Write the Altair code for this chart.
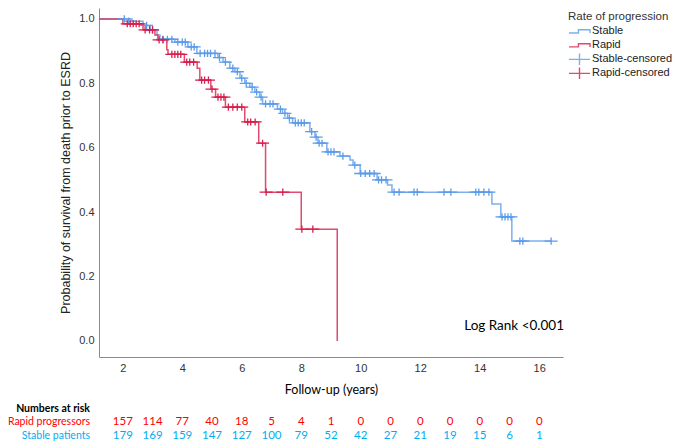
import altair as alt
import pandas as pd

# ---------------- data ----------------
groups = ["Stable", "Rapid", "Stable-censored", "Rapid-censored"]
group_colors = ["#5b9bea", "#d81e4c", "#5b9bea", "#d81e4c"]

stable_t = [1.2, 2.31, 2.68, 2.92, 3.15, 3.25, 3.75, 4.19, 4.49, 5.2, 5.37, 5.6, 5.77, 5.94,
            6.1, 6.27, 6.44, 6.6, 6.7, 7.2, 7.37, 7.54, 7.71, 8.29, 8.46, 8.56, 8.86, 9.3,
            9.64, 9.74, 9.98, 10.55, 10.9, 11.05, 14.41, 14.71, 15.08, 16.4]
stable_s = [1.0, 0.993, 0.98, 0.966, 0.95, 0.937, 0.928, 0.913, 0.893, 0.88, 0.866, 0.847, 0.836, 0.816,
            0.8, 0.788, 0.773, 0.757, 0.736, 0.72, 0.707, 0.692, 0.677, 0.65, 0.633, 0.614, 0.587, 0.574,
            0.562, 0.546, 0.52, 0.5, 0.484, 0.462, 0.425, 0.385, 0.31, 0.31]

rapid_t = [1.2, 2.0, 2.68, 3.08, 3.18, 3.48, 3.52, 4.07, 4.5, 4.59, 4.96, 5.12, 5.45, 6.1, 6.57, 6.8, 8.0, 9.21]
rapid_s = [1.0, 0.985, 0.966, 0.95, 0.935, 0.904, 0.89, 0.866, 0.847, 0.81, 0.782, 0.757, 0.726, 0.68,
           0.614, 0.462, 0.347, 0.0]

stable_cens_t = [2.05, 2.2, 2.8, 3.0, 3.35, 3.5, 3.65, 3.85, 4.0, 4.1, 4.3, 4.4, 4.6, 4.75, 4.85, 4.95, 5.1,
                 5.25, 5.45, 5.7, 5.85, 6.0, 6.15, 6.35, 6.5, 6.65, 6.8, 6.95, 7.05, 7.3, 7.45, 7.6,
                 7.8, 7.9, 8.0, 8.1, 8.35, 8.5, 8.6, 8.7, 8.9, 9.0, 9.1, 9.4, 9.8, 10.0, 10.15, 10.3,
                 10.45, 10.6, 10.7, 10.85, 11.12, 11.29, 11.79, 11.9, 12.8, 13.03, 13.87, 13.97,
                 14.14, 14.31, 14.75, 14.85, 14.95, 15.05, 15.35, 15.45, 16.4]
stable_cens_s = [1.0, 0.993, 0.98, 0.966, 0.937, 0.937, 0.937, 0.928, 0.928, 0.928, 0.913, 0.913, 0.893,
                 0.893, 0.893, 0.893, 0.893, 0.88, 0.866, 0.847, 0.836, 0.816, 0.8, 0.788, 0.773, 0.757,
                 0.736, 0.736, 0.736, 0.72, 0.707, 0.692, 0.677, 0.677, 0.677, 0.677, 0.65, 0.633,
                 0.614, 0.614, 0.587, 0.587, 0.587, 0.574, 0.546, 0.52, 0.52, 0.52, 0.52, 0.5, 0.5, 0.5,
                 0.462, 0.462, 0.462, 0.462, 0.462, 0.462, 0.462, 0.462, 0.462, 0.462, 0.385, 0.385,
                 0.385, 0.385, 0.31, 0.31, 0.31]

rapid_cens_t = [2.15, 2.25, 2.35, 2.45, 2.55, 2.75, 2.9, 3.0, 3.22, 3.35, 3.65, 3.75, 3.85, 3.95, 4.15,
                4.25, 4.38, 4.65, 4.75, 4.88, 5.0, 5.2, 5.3, 5.4, 5.55, 5.7, 5.85, 6.0, 6.2, 6.3, 6.45,
                6.7, 6.82, 7.38, 8.02, 8.39]
rapid_cens_s = [0.985, 0.985, 0.985, 0.985, 0.985, 0.966, 0.966, 0.966, 0.935, 0.935, 0.89, 0.89, 0.89,
                0.89, 0.866, 0.866, 0.866, 0.81, 0.81, 0.81, 0.782, 0.757, 0.757, 0.757, 0.726, 0.726,
                0.726, 0.726, 0.68, 0.68, 0.68, 0.614, 0.462, 0.462, 0.347, 0.347]

risk_times = list(range(2, 17))
rapid_risk = [157, 114, 77, 40, 18, 5, 4, 1, 0, 0, 0, 0, 0, 0, 0]
stable_risk = [179, 169, 159, 147, 127, 100, 79, 52, 42, 27, 21, 19, 15, 6, 1]

x_ticks = [2, 4, 6, 8, 10, 12, 14, 16]
y_ticks = [0.0, 0.2, 0.4, 0.6, 0.8, 1.0]

# ---------------- tables ----------------
lines_df = pd.concat([
    pd.DataFrame({"t": stable_t, "s": stable_s, "group": "Stable"}),
    pd.DataFrame({"t": rapid_t, "s": rapid_s, "group": "Rapid"}),
])
cens_df = pd.concat([
    pd.DataFrame({"t": stable_cens_t, "s": stable_cens_s, "group": "Stable-censored"}),
    pd.DataFrame({"t": rapid_cens_t, "s": rapid_cens_s, "group": "Rapid-censored"}),
])
risk_df = pd.DataFrame({"t": risk_times, "rapid": rapid_risk, "stable": stable_risk})

# ---------------- encodings ----------------
W, H = 464, 349
x_scale = alt.Scale(domain=[1.2, 16.8], nice=False, zero=False)
y_scale = alt.Scale(domain=[-0.05, 1.034], nice=False, zero=False)

x_axis = alt.Axis(title="Follow-up (years)", values=x_ticks, format="d", grid=False, ticks=False,
                  domainColor="#8a8a8a", labelFont="Liberation Sans", labelFontSize=11,
                  labelColor="#333333", labelPadding=5, titleFont="Lato", titleFontSize=12.5,
                  titleFontWeight="normal", titleColor="#000000", titlePadding=10)
y_axis = alt.Axis(title="Probability of survival from death prior to ESRD", values=y_ticks, format=".1f",
                  grid=False, ticks=False, domainColor="#8a8a8a", labelFont="Liberation Sans",
                  labelFontSize=11, labelColor="#333333", labelPadding=5, titleFont="Liberation Sans",
                  titleFontSize=12.5, titleFontWeight="normal", titleColor="#222222", titlePadding=6)

X = alt.X("t:Q", scale=x_scale, axis=x_axis)
Y = alt.Y("s:Q", scale=y_scale, axis=y_axis)

step_path = "M-1,0.15H-0.1V-0.15H1V0.15"
plus_path = "M-1,0H1M0,-0.55V0.55"
group_shapes = [step_path, step_path, plus_path, plus_path]

legend_kw = dict(title="Rate of progression", orient="none", legendX=469, legendY=3,
                 titleFont="Liberation Sans", titleFontSize=11.5, titleFontWeight="normal",
                 titleColor="#333333", labelFont="Liberation Sans", labelFontSize=11,
                 labelColor="#222222", symbolSize=441, clipHeight=13.7, symbolStrokeWidth=1.4,
                 rowPadding=0, labelOffset=1, titlePadding=2, padding=0)

color = alt.Color("group:N", scale=alt.Scale(domain=groups, range=group_colors),
                  legend=alt.Legend(**legend_kw))
shape = alt.Shape("group:N", scale=alt.Scale(domain=groups, range=group_shapes),
                  legend=alt.Legend(**legend_kw))

lines = alt.Chart(lines_df).mark_line(interpolate="step-after", strokeWidth=1.5, opacity=0.8).encode(
    x=X, y=Y, color=color
)
points = alt.Chart(cens_df).mark_point(filled=False, size=170, strokeWidth=1.3, opacity=1).encode(
    x=X, y=Y, color=color, shape=shape
)

risk_font = "Lato"
rapid_txt = alt.Chart(risk_df).mark_text(font=risk_font, fontSize=11.5, color="#ff0000", baseline="middle").encode(
    x=alt.X("t:Q", scale=x_scale, axis=x_axis), y=alt.value(414), text="rapid:Q"
)
stable_txt = alt.Chart(risk_df).mark_text(font=risk_font, fontSize=11.5, color="#00aeef", baseline="middle").encode(
    x=alt.X("t:Q", scale=x_scale, axis=x_axis), y=alt.value(428), text="stable:Q"
)

def label(txt, y, col, weight="normal"):
    return alt.Chart(pd.DataFrame({"txt": [txt]})).mark_text(
        font=risk_font, fontSize=10.5, color=col, align="right", baseline="middle", fontWeight=weight
    ).encode(x=alt.value(-9), y=alt.value(y), text="txt:N")

nar = label("Numbers at risk", 401, "#000000", "bold")
rapid_lab = label("Rapid progressors", 414, "#ff0000")
stable_lab = label("Stable patients", 428, "#00aeef")

logrank = alt.Chart(pd.DataFrame({"txt": ["Log Rank <0.001"]})).mark_text(
    font=risk_font, fontSize=13.5, color="#000000", align="right", baseline="middle"
).encode(x=alt.value(W + 1), y=alt.value(318), text="txt:N")

chart = alt.layer(lines, points, rapid_txt, stable_txt, nar, rapid_lab, stable_lab, logrank).properties(
    width=W, height=H,
    autosize=alt.AutoSizeParams(type="none"),
    padding={"left": 91, "top": 0, "right": 114, "bottom": 86},
).configure_view(stroke=None)

chart.save("out.html", embed_options={"renderer": "svg", "actions": False})
